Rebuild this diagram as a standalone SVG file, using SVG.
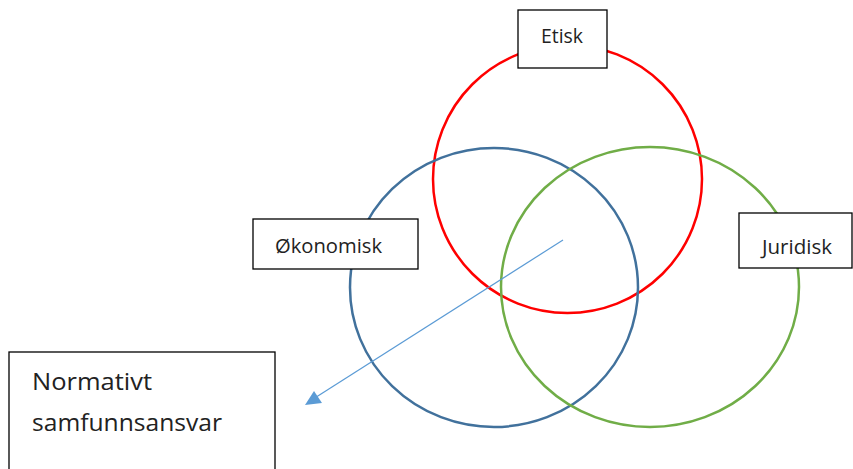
<svg xmlns="http://www.w3.org/2000/svg" width="853" height="469" viewBox="0 0 853 469">
<style>
.box{fill:#fff;stroke:#000;stroke-width:1.3}
.t{font-family:"Open Sans","Liberation Sans",sans-serif;fill:#222}
.s{font-size:19.5px}
.b{font-size:24px}
.c{fill:none;stroke-width:2.5}
</style>
<rect width="853" height="469" fill="#fff"/>
<g id="circle-etisk"><ellipse class="c" cx="567.5" cy="179" rx="134.5" ry="134" stroke="#ff0000"/></g>
<g id="circle-okonomisk"><ellipse class="c" cx="494" cy="287.5" rx="144" ry="139.5" stroke="#41719c"/></g>
<g id="circle-juridisk"><ellipse class="c" cx="650" cy="287" rx="149" ry="140" stroke="#70ad47"/></g>
<g id="connectors">
<line x1="563" y1="240" x2="310" y2="401" stroke="#5b9bd5" stroke-width="1.2"/>
<path d="M305,405L314,391L322,403z" fill="#5b9bd5"/>
</g>
<g id="node-etisk"><rect class="box" x="518" y="10" width="89" height="58"/><text class="t s" x="541" y="43" textLength="42" lengthAdjust="spacingAndGlyphs">Etisk</text></g>
<g id="node-okonomisk"><rect class="box" x="253" y="219" width="165" height="50"/><text class="t s" x="275" y="253" textLength="107" lengthAdjust="spacingAndGlyphs">Økonomisk</text></g>
<g id="node-juridisk"><rect class="box" x="739" y="213" width="113" height="55"/><text class="t s" x="762" y="254" textLength="70" lengthAdjust="spacingAndGlyphs">Juridisk</text></g>
<g id="node-normativt"><rect class="box" x="9" y="352" width="266" height="125"/><text class="t b" x="32" y="390" textLength="120" lengthAdjust="spacingAndGlyphs">Normativt</text><text class="t b" x="32" y="431" textLength="190" lengthAdjust="spacingAndGlyphs">samfunnsansvar</text></g>
</svg>
